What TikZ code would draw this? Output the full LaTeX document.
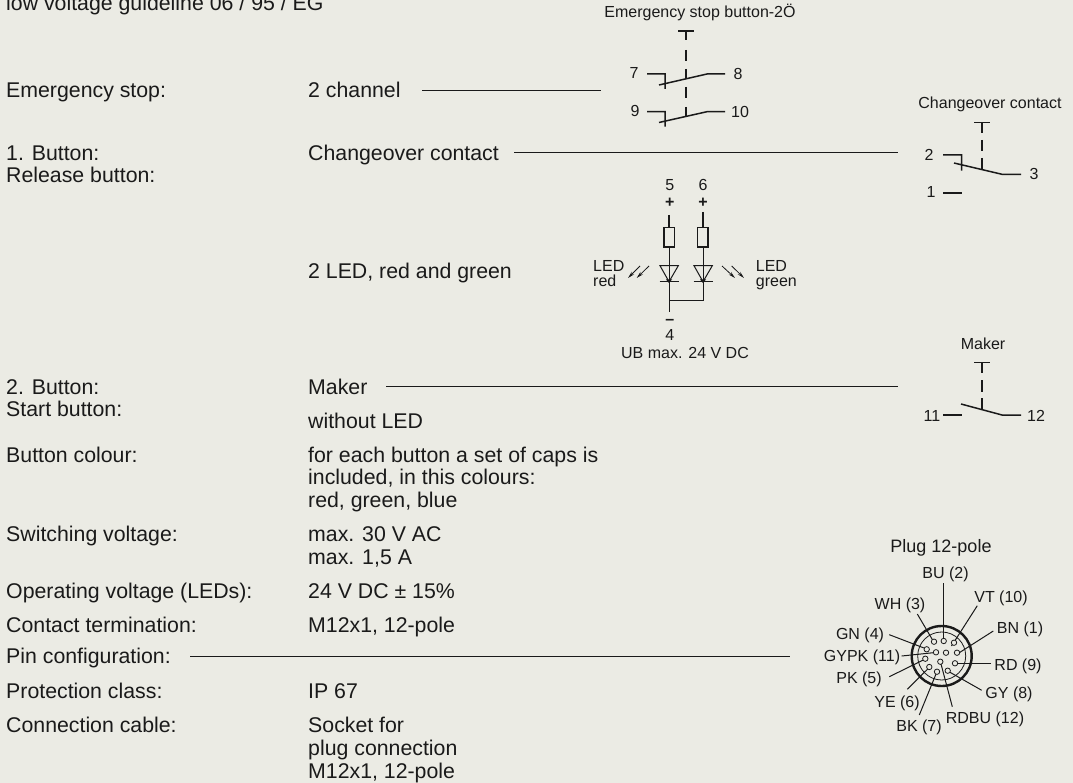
\documentclass[tikz,border=0pt]{standalone}
\usepackage{fontspec}
\setmainfont{Liberation Sans}
\definecolor{bgc}{HTML}{EBEBE4}
\definecolor{ink}{HTML}{1A1A1A}
\tikzset{
 txt/.style={anchor=base west,inner sep=0pt,text=ink,font=\fontsize{21.3}{24}\selectfont},
 sm/.style={anchor=base,inner sep=0pt,text=ink,font=\fontsize{16}{18}\selectfont},
 wire/.style={draw=ink,line width=1pt},
 thick wire/.style={draw=ink,line width=1.5pt},
 ray/.style={draw=ink,line width=.8pt,-{Stealth[length=7pt,width=3.5pt]}}
}
\usetikzlibrary{arrows.meta}
\begin{document}
\begin{tikzpicture}[x=1pt,y=-1pt]
\useasboundingbox[fill=bgc] (0,0) rectangle (1073,783);
\node[txt] (a) at (6,10.7) {low voltage guideline 06 / 95 / EG};
\node[txt] (b) at (6,97.7) {Emergency stop:};
\node[txt] (c) at (308,97.7) {2 channel};
\node[txt] (d) at (6,161) {1. Button:};
\node[txt] (e) at (6,183) {Release button:};
\node[txt] (f) at (308,161) {Changeover contact};
\node[txt] (g) at (308,279) {2 LED, red and green};
\node[txt] (h) at (6,394) {2. Button:};
\node[txt] (i) at (6,416) {Start button:};
\node[txt] (j) at (308,394) {Maker};
\node[txt] (k) at (308,428) {without LED};
\node[txt] (l) at (6,462) {Button colour:};
\node[txt] (m) at (308,462) {for each button a set of caps is};
\node[txt] (n) at (308,484.5) {included, in this colours:};
\node[txt] (o) at (308,507) {red, green, blue};
\node[txt] (p) at (6,541) {Switching voltage:};
\node[txt] (q) at (308,541) {max. 30 V AC};
\node[txt] (r) at (308,564) {max. 1,5 A};
\node[txt] (s) at (6,598) {Operating voltage (LEDs):};
\node[txt] (t) at (308,598) {24 V DC ± 15\%};
\node[txt] (u) at (6,632) {Contact termination:};
\node[txt] (v) at (308,632) {M12x1, 12-pole};
\node[txt] (w) at (6,663) {Pin configuration:};
\node[txt] (x) at (6,698) {Protection class:};
\node[txt] (y) at (308,698) {IP 67};
\node[txt] (z) at (6,732) {Connection cable:};
\node[txt] (z1) at (308,732) {Socket for};
\node[txt] (z2) at (308,755) {plug connection};
\node[txt] (z3) at (308,778) {M12x1, 12-pole};
% leaders
\coordinate (l1) at (422,90.3); \coordinate (l2) at (601,90.3);
\draw[wire] (l1)--(l2);
\coordinate (l3) at (514,153); \coordinate (l4) at (898,153);
\draw[wire] (l3)--(l4);
\coordinate (l5) at (386,386); \coordinate (l6) at (898,386);
\draw[wire] (l5)--(l6);
\coordinate (l7) at (190,656); \coordinate (l8) at (790,656);
\draw[wire] (l7)--(l8);
% emergency stop
\node[sm] (es) at (700,18) {Emergency stop button-2Ö};
\draw[thick wire] (678,31)--(694,31) (686,31)--(686,40.5);
\draw[thick wire] (686,50)--(686,61) (686,69)--(686,79) (686,87)--(686,98) (686,107)--(686,116);
\draw[thick wire] (647,74)--(665,74)--(665,89) (659,85)--(707,74)--(725,74);
\draw[thick wire] (647,111.7)--(665,111.7)--(665,126.7) (659,122.5)--(707,111.7)--(725,111.7);
\node[sm] at (634,79) {7};
\node[sm] at (738,80) {8};
\node[sm] at (635,117) {9};
\node[sm] at (740,118) {10};
% changeover
\node[sm] at (990,109) {Changeover contact};
\draw[thick wire] (974,122.3)--(990,122.3) (982,122.3)--(982,132.7);
\draw[thick wire] (982,140)--(982,151) (982,158)--(982,170);
\draw[thick wire] (943,155)--(961.7,155)--(961.7,170.7) (954,163)--(1002,174.3)--(1021,174.3);
\draw[thick wire] (943,193)--(961.7,193);
\node[sm] at (929,160.7) {2};
\node[sm] at (1034,180) {3};
\node[sm] at (931,198) {1};
% maker
\node[sm] at (983,349) {Maker};
\draw[thick wire] (974,362.3)--(990,362.3) (982,362.3)--(982,372.7);
\draw[thick wire] (982,380)--(982,392) (982,398)--(982,410);
\draw[thick wire] (961,404)--(1002,415)--(1021,415);
\draw[thick wire] (943,415)--(962,415);
\node[sm] at (932,421) {11};
\node[sm] at (1036,421) {12};
% LEDs
\node[sm] at (669.7,191) {5};
\node[sm] at (703,191) {6};
\node[sm] at (669.7,208) {\textbf{+}};
\node[sm] at (703,208) {\textbf{+}};
\draw[thick wire] (669,215)--(669,227.3) (703,212)--(703,227.3);
\draw[thick wire] (664,227.3) rectangle (674.7,247);
\draw[thick wire] (697.5,227.3) rectangle (708,247);
\draw[wire] (669,247)--(669,311.7) (703,247)--(703,300.3)--(669,300.3);
\draw[wire] (660,265.7)--(678.3,265.7)--(669,281.7)--cycle;
\draw[wire] (694,265.7)--(712.3,265.7)--(703,281.7)--cycle;
\draw[thick wire] (659.5,281.7)--(679,281.7) (693.5,281.7)--(713,281.7);
\fill[ink] (666,279.5)--(672,279.5)--(669,283)--cycle (700,279.5)--(706,279.5)--(703,283)--cycle;
\node[sm] at (669.7,325) {\textbf{–}};
\node[sm] at (669.7,340.7) {4};
\node[sm] at (685,359) {UB max. 24 V DC};
\node[sm,anchor=base west] at (593,271.7) {LED};
\node[sm,anchor=base west] at (593,286.7) {red};
\node[sm,anchor=base west] at (755.7,271.7) {LED};
\node[sm,anchor=base west] at (755.7,286.7) {green};
\draw[ray] (640,266)--(628,278);
\draw[ray] (649,266)--(636.7,278);
\draw[ray] (722,266)--(735,278);
\draw[ray] (731.7,266)--(744,278);
% plug
\node[sm,font=\fontsize{18}{20}\selectfont] at (941,552.7) {Plug 12-pole};
\coordinate (pc) at (941.7,656);
\draw[draw=ink,line width=2.4pt] (pc) circle (30);
\draw[draw=ink,line width=.8pt] (pc) circle (24);
\foreach \lab/\lx/\ly/\ax/\ay/\px/\py in {
 BU (2)/945.5/578/943.7/583/943.7/639,
 VT (10)/1001/602/977.3/605.7/951.5/646,
 WH (3)/900/609/917.3/614/932.3/639.5,
 BN (1)/1020/633/993.3/631/959.3/652.7,
 GN (4)/860/639/889.3/634.7/924/648,
 GYPK (11)/862/661/901.7/656/933.3/652.7,
 PK (5)/859/683/889.3/676.7/923.3/660,
 RD (9)/1018/670/991/663.7/957.3/663.7,
 YE (6)/897/707/907.3/689.3/927.7/669,
 GY (8)/1009/698/981.7/690.3/950/672.3,
 BK (7)/919/731/919.3/715/936/674,
 RDBU (12)/985/723/952.3/706.7/941/664}
 {\node[sm] at (\lx,\ly) {\lab};
  \draw[wire] (\ax,\ay)--(\px,\py);}
\foreach \px/\py in {943.7/641,954/642.7,957/652.7,946/652.7,936/652.3,934/641.7,926.7/649.3,925.3/658.7,940.3/661.7,955/663.3,929.3/667,937/671.7,947.7/670.7}
 {\draw[draw=ink,line width=.8pt,fill=bgc] (\px,\py) circle (2.7);}
\end{tikzpicture}
\end{document}
